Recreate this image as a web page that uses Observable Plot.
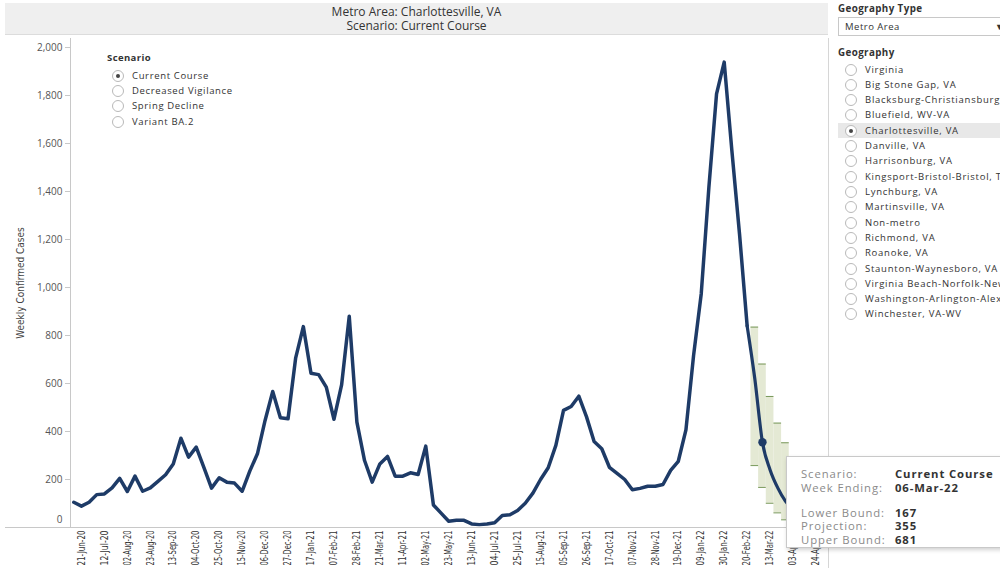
<!DOCTYPE html>
<html><head><meta charset="utf-8">
<script src="https://cdn.jsdelivr.net/npm/d3@7"></script>
<script src="https://cdn.jsdelivr.net/npm/@observablehq/plot@0.6"></script>
<style>
body{margin:0;width:1000px;height:568px;overflow:hidden;background:#fff;font-family:"Open Sans","Noto Sans",sans-serif;position:relative;color:#333}
#header{position:absolute;left:5px;top:3px;width:823px;height:32px;background:#efefef;text-align:center;font-size:12px;line-height:13.5px;color:#333;padding-top:2px;box-sizing:border-box;border-bottom:1px solid #dcdcdc}
#chart{position:absolute;left:0;top:0}
#ytitle{position:absolute;left:20px;top:283px;transform:translate(-50%,-50%) rotate(-90deg);font-family:"Liberation Sans Narrow","DejaVu Sans Condensed",sans-serif;font-stretch:condensed;font-size:10px;color:#444;white-space:nowrap}
#baseExt{position:absolute;left:5px;top:527px;width:66px;height:1px;background:#c8c8c8}
#rightLine{position:absolute;left:828px;top:38px;width:1px;height:530px;background:#d6d6d6}
.legTitle{position:absolute;font-weight:bold;font-size:9.5px;letter-spacing:0.4px;color:#333}
.radio{position:absolute;font-size:9.5px;letter-spacing:0.65px;color:#333;white-space:nowrap;height:15px;line-height:15px}
.radio .c{position:absolute;left:0;top:2px;width:12px;height:12px;border:1px solid #b9b9b9;border-radius:50%;box-sizing:border-box;background:#fff}
.radio .c.on::after{content:"";position:absolute;left:3px;top:3px;width:4px;height:4px;border-radius:50%;background:#444}
.radio span{position:absolute;left:20px;top:0}
#panel{position:absolute;left:830px;top:0;width:170px;height:568px;overflow:hidden}
#panel .radio{letter-spacing:0.75px}
#dropdown{position:absolute;left:8px;top:17px;width:170px;height:19px;border:1px solid #c8c8c8;box-sizing:border-box;font-size:9.5px;letter-spacing:0.5px;line-height:17px;padding-left:6px}
#dropdown .arr{position:absolute;left:156px;top:0;font-size:9px}
#tooltip{position:absolute;left:786px;top:456px;width:240px;height:92px;background:#fff;border:1px solid #c9c9c9;box-shadow:1px 2px 4px rgba(0,0,0,0.18);box-sizing:border-box;font-size:11.3px;letter-spacing:0.9px}
#tooltip div{position:absolute;white-space:nowrap}
#tooltip .l{left:14px;color:#8a8a8a}
#tooltip .v{left:108px;color:#333;font-weight:bold}
</style></head>
<body>
<div id="header">Metro Area: Charlottesville, VA<br>Scenario: Current Course</div>
<div id="chart"></div>
<div id="ytitle">Weekly Confirmed Cases</div>
<div id="baseExt"></div>
<div id="rightLine"></div>
<div id="legend"></div>
<div id="panel"></div>
<div id="tooltip"></div>
<script>
// ---- data ----
const historyStart = "2020-06-14";
const weeklyCases = [105, 89, 105, 137, 140, 165, 205, 150, 214, 151,
  165, 192, 220, 265, 372, 293, 335, 251, 164, 207,
  189, 185, 151, 235, 307, 446, 567, 457, 453, 707,
  837, 643, 637, 585, 451, 594, 880, 439, 279, 189,
  265, 296, 214, 214, 228, 221, 339, 94, 60, 26,
  30, 30, 15, 12, 15, 20, 50, 53, 71, 101,
  143, 200, 249, 342, 488, 504, 547, 462, 358, 328,
  251, 226, 200, 157, 163, 172, 172, 179, 238, 276,
  407, 717, 974, 1418, 1807, 1939, 1571, 1224, 840];
const projectionStart = "2022-02-20";
const projectionValues = [840, 620, 355, 240, 165, 110, 75, 50];
const lowerBounds = [null, 258, 167, 101, 61, 32, 20, 12];
const upperBounds = [null, 835, 681, 546, 435, 353, 295, 240];
const highlightWeek = "2022-03-06";
const xTickLabels = ["21-Jun-20","12-Jul-20","02-Aug-20","23-Aug-20","13-Sep-20","04-Oct-20","25-Oct-20",
  "15-Nov-20","06-Dec-20","27-Dec-20","17-Jan-21","07-Feb-21","28-Feb-21","21-Mar-21","11-Apr-21",
  "02-May-21","23-May-21","13-Jun-21","04-Jul-21","25-Jul-21","15-Aug-21","05-Sep-21","26-Sep-21",
  "17-Oct-21","07-Nov-21","28-Nov-21","19-Dec-21","09-Jan-22","30-Jan-22","20-Feb-22","13-Mar-22",
  "03-Apr-22","24-Apr-22"];
const yTicks = [0, 200, 400, 600, 800, 1000, 1200, 1400, 1600, 1800, 2000];
const scenarios = ["Current Course", "Decreased Vigilance", "Spring Decline", "Variant BA.2"];
const selectedScenario = "Current Course";
const geographies = ["Virginia", "Big Stone Gap, VA", "Blacksburg-Christiansburg-Radford, VA", "Bluefield, WV-VA",
  "Charlottesville, VA", "Danville, VA", "Harrisonburg, VA", "Kingsport-Bristol-Bristol, TN-VA", "Lynchburg, VA",
  "Martinsville, VA", "Non-metro", "Richmond, VA", "Roanoke, VA", "Staunton-Waynesboro, VA",
  "Virginia Beach-Norfolk-Newport News, VA-NC", "Washington-Arlington-Alexandria, DC-VA-MD-WV", "Winchester, VA-WV"];
const selectedGeography = "Charlottesville, VA";
const tooltipRows = [["Scenario:", "Current Course"], ["Week Ending:", "06-Mar-22"], null,
  ["Lower Bound:", "167"], ["Projection:", "355"], ["Upper Bound:", "681"]];

// ---- derived tables ----
const DAY = 864e5;
const week = (start, i) => new Date(Date.parse(start) + i * 7 * DAY);
const history = weeklyCases.map((v, i) => ({date: week(historyStart, i), value: v}));
const projection = projectionValues.map((v, i) => ({date: week(projectionStart, i), value: v,
  lower: lowerBounds[i], upper: upperBounds[i]}));
const band = projection.filter(d => d.lower != null).map(d => ({...d,
  x1: new Date(+d.date - 3.5 * DAY), x2: new Date(+d.date + 3.5 * DAY)}));
const highlight = projection.filter(d => +d.date === Date.parse(highlightWeek));
const parseTick = d3.utcParse("%d-%b-%y");
const xTicks = xTickLabels.map(parseTick);
const xDomain = [new Date(Date.parse(historyStart) - 3 * DAY), new Date(Date.parse("2022-05-01") + 3.5 * DAY)];

const navy = "#1e3b67";
const chart = Plot.plot({
  width: 830, height: 568,
  marginLeft: 70, marginRight: 3, marginTop: 38, marginBottom: 41,
  style: {background: "transparent", overflow: "visible"},
  x: {type: "utc", domain: xDomain},
  y: {domain: [0, 2037.5]},
  marks: [
    Plot.rect(band, {x1: "x1", x2: "x2", y1: "lower", y2: "upper", fill: "#e4e9d4"}),
    Plot.ruleY(band, {y: "upper", x1: "x1", x2: "x2", stroke: "#78985a", strokeWidth: 1}),
    Plot.ruleY(band, {y: "lower", x1: "x1", x2: "x2", stroke: "#78985a", strokeWidth: 1}),
    Plot.ruleY([0], {stroke: "#c8c8c8"}),
    Plot.ruleX([xDomain[0]], {stroke: "#c8c8c8"}),
    Plot.axisY({ticks: yTicks, tickFormat: d3.format(","), tickSize: 5, tickPadding: 3, label: null,
      stroke: "#c8c8c8", fill: "#555", fontSize: 10, fontFamily: "Open Sans", letterSpacing: 0.4}),
    Plot.axisX({ticks: xTicks, tickFormat: d3.utcFormat("%d-%b-%y"), tickRotate: -90, tickSize: 0, tickPadding: 3,
      label: null, fill: "#333", fontSize: 10, fontFamily: "Liberation Sans Narrow, DejaVu Sans Condensed, sans-serif"}),
    Plot.lineY(history, {x: "date", y: "value", stroke: navy, strokeWidth: 3.5, strokeLinejoin: "round"}),
    Plot.lineY(projection, {x: "date", y: "value", stroke: navy, strokeWidth: 3.2, curve: "monotone-x"}),
    Plot.dot(highlight, {x: "date", y: "value", r: 4.2, fill: navy})
  ]
});
document.getElementById("chart").appendChild(chart);
// condense the rotated date labels like the reference's narrow font
chart.querySelectorAll('g[aria-label="x-axis tick label"] text').forEach(t => {
  t.setAttribute("textLength", 35);
  t.setAttribute("lengthAdjust", "spacingAndGlyphs");
});
// Tableau lifts the bottom "0" label above the baseline
chart.querySelectorAll('g[aria-label="y-axis tick label"] text').forEach(t => {
  if (t.textContent === "0") t.setAttribute("y", -5);
});

// ---- scenario legend ----
const legend = document.getElementById("legend");
legend.innerHTML = `<div class="legTitle" style="left:107px;top:51px">Scenario</div>` +
  scenarios.map((s, i) => `<div class="radio" style="left:112px;top:${67.5 + i * 15.4}px"><div class="c ${s === selectedScenario ? "on" : ""}"></div><span>${s}</span></div>`).join("");

// ---- right panel ----
const panel = document.getElementById("panel");
panel.innerHTML = `<div class="legTitle" style="left:8px;top:2px;font-size:9.8px">Geography Type</div>
<div id="dropdown">Metro Area<span class="arr">▼</span></div>
<div class="legTitle" style="left:8px;top:46px;font-size:9.8px">Geography</div>` +
  geographies.map((g, i) => {
    const sel = g === selectedGeography;
    return `${sel ? `<div style="position:absolute;left:8px;top:${61.5 + i * 15.31}px;width:170px;height:15px;background:#e8e8e8"></div>` : ""}<div class="radio" style="left:15px;top:${61.5 + i * 15.31}px"><div class="c ${sel ? "on" : ""}"></div><span>${g}</span></div>`;
  }).join("");

// ---- tooltip ----
const tooltip = document.getElementById("tooltip");
const rowY = [9, 23, null, 48, 61, 75];
tooltip.innerHTML = tooltipRows.map((r, i) => r ? `<div class="l" style="top:${rowY[i]}px">${r[0]}</div><div class="v" style="top:${rowY[i]}px">${r[1]}</div>` : "").join("");
</script>
</body></html>
